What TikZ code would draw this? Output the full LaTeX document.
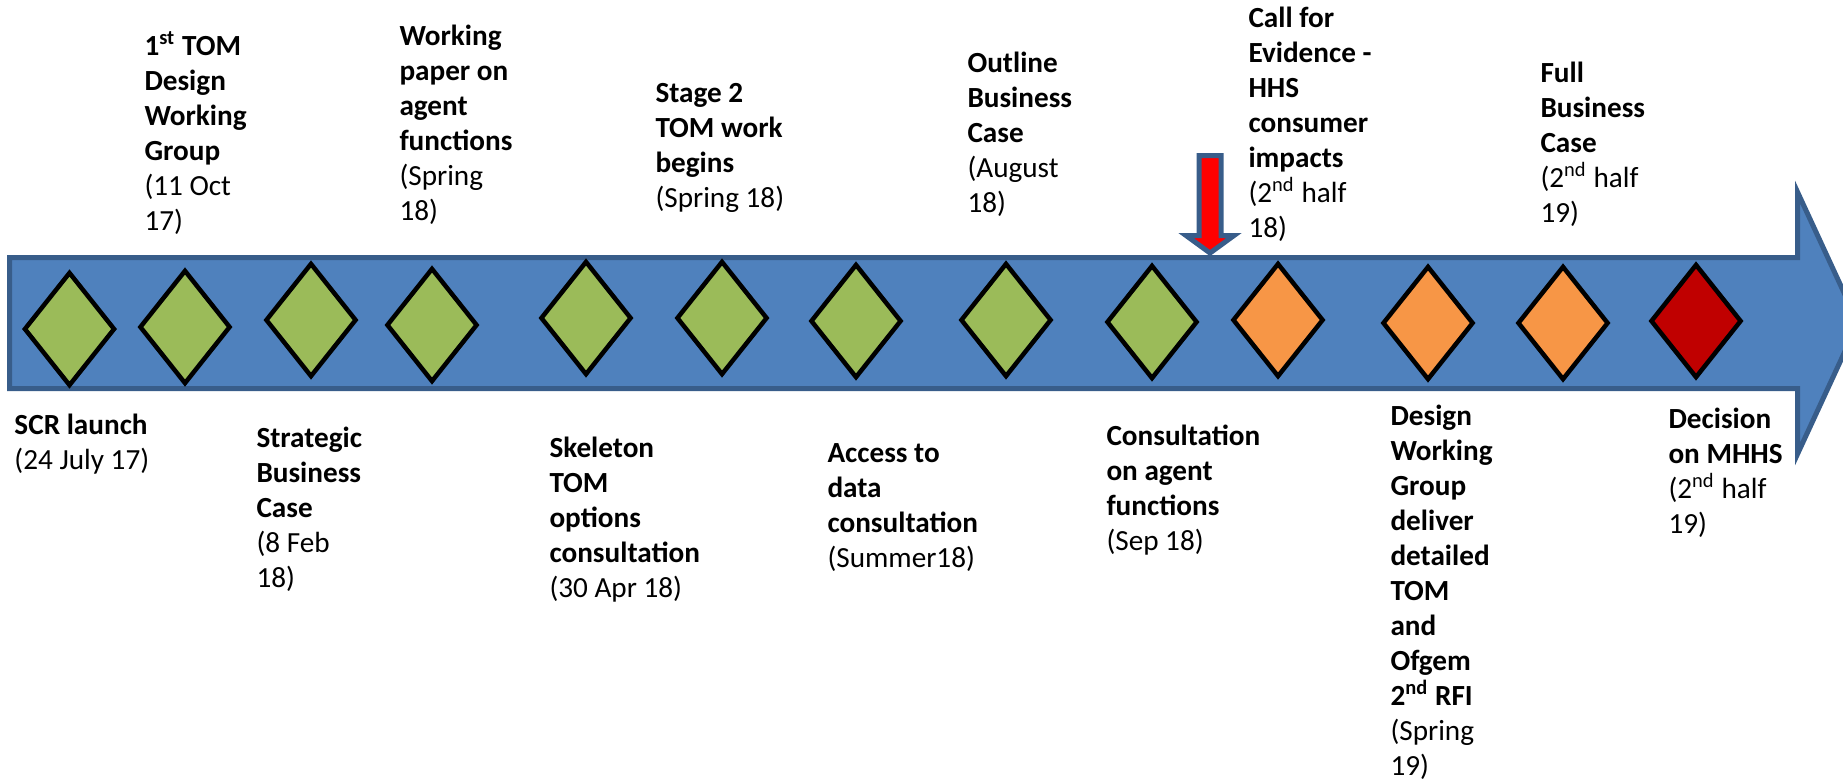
\documentclass[tikz,border=0pt]{standalone}
\usepackage{fontspec}
\setmainfont{Carlito}
\usetikzlibrary{shapes.geometric}
\definecolor{bandfill}{HTML}{4F81BD}
\definecolor{bandline}{HTML}{385D8A}
\definecolor{mgreen}{HTML}{9BBB59}
\definecolor{morange}{HTML}{F79646}
\definecolor{mred}{HTML}{C00000}
\definecolor{arrred}{HTML}{FF0000}
\begin{document}
\begin{tikzpicture}[x=0.4pt,y=-0.4pt,
  ms/.style={diamond, draw=black, line width=1.8pt, minimum width=36.4pt, minimum height=45.6pt, inner sep=0pt},
  msg/.style={ms, fill=mgreen},
  mso/.style={ms, fill=morange},
  msr/.style={ms, fill=mred},
  lab/.style={anchor=north west, inner sep=0pt, align=left, font=\fontsize{11.68}{14}\selectfont}]
\useasboundingbox (0,0) rectangle (1843,782);
% timeline band
\path[fill=bandfill, draw=bandline, line width=2pt]
  (9.5,257.5) -- (1797.5,257.5) -- (1797.5,192) -- (1858,323) -- (1797.5,454) -- (1797.5,388.5) -- (9.5,388.5) -- cycle;
% red marker arrow
\path[fill=arrred, draw=bandline, line width=2pt]
  (1199,155.5) -- (1221,155.5) -- (1221,235.5) -- (1234,235.5) -- (1210,253) -- (1186,235.5) -- (1199,235.5) -- cycle;
% milestones
\node[msg] (d1) at (69.5,329) {};
\node[msg] (d2) at (185,327) {};
\node[msg] (d3) at (311,320) {};
\node[msg] (d4) at (432,325) {};
\node[msg] (d5) at (586,318) {};
\node[msg] (d6) at (722,318) {};
\node[msg] (d7) at (856,321) {};
\node[msg] (d8) at (1006,320) {};
\node[msg] (d9) at (1152,322) {};
\node[mso] (d10) at (1278,320) {};
\node[mso] (d11) at (1428,323) {};
\node[mso] (d12) at (1563,323) {};
\node[msr] (d13) at (1696,321) {};
% labels above
\node[lab] (t1) at (144,30.5) {\strut\textbf{1\textsuperscript{st} TOM}\\\textbf{Design}\\\textbf{Working}\\\textbf{Group}\\(11 Oct\\17)};
\node[lab] (t2) at (399,20.5) {\strut\textbf{Working}\\\textbf{paper on}\\\textbf{agent}\\\textbf{functions}\\(Spring\\18)};
\node[lab] (t3) at (655,77.5) {\strut\textbf{Stage 2}\\\textbf{TOM work}\\\textbf{begins}\\(Spring 18)};
\node[lab] (t4) at (967,47.5) {\strut\textbf{Outline}\\\textbf{Business}\\\textbf{Case}\\(August\\18)};
\node[lab] (t5) at (1248,2.5) {\strut\textbf{Call for}\\\textbf{Evidence -}\\\textbf{HHS}\\\textbf{consumer}\\\textbf{impacts}\\(2\textsuperscript{nd} half\\18)};
\node[lab] (t6) at (1540,57.5) {\strut\textbf{Full}\\\textbf{Business}\\\textbf{Case}\\(2\textsuperscript{nd} half\\19)};
% labels below
\node[lab] (b1) at (14,409.5) {\strut\textbf{SCR launch}\\(24 July 17)};
\node[lab] (b2) at (256,422.5) {\strut\textbf{Strategic}\\\textbf{Business}\\\textbf{Case}\\(8 Feb\\18)};
\node[lab] (b3) at (549,432.5) {\strut\textbf{Skeleton}\\\textbf{TOM}\\\textbf{options}\\\textbf{consultation}\\(30 Apr 18)};
\node[lab] (b4) at (827,437.5) {\strut\textbf{Access to}\\\textbf{data}\\\textbf{consultation}\\(Summer18)};
\node[lab] (b5) at (1106,420.5) {\strut\textbf{Consultation}\\\textbf{on agent}\\\textbf{functions}\\(Sep 18)};
\node[lab] (b6) at (1390,400.5) {\strut\textbf{Design}\\\textbf{Working}\\\textbf{Group}\\\textbf{deliver}\\\textbf{detailed}\\\textbf{TOM}\\\textbf{and}\\\textbf{Ofgem}\\\textbf{2\textsuperscript{nd} RFI}\\(Spring\\19)};
\node[lab] (b7) at (1668,403.5) {\strut\textbf{Decision}\\\textbf{on MHHS}\\(2\textsuperscript{nd} half\\19)};
\end{tikzpicture}
\end{document}
